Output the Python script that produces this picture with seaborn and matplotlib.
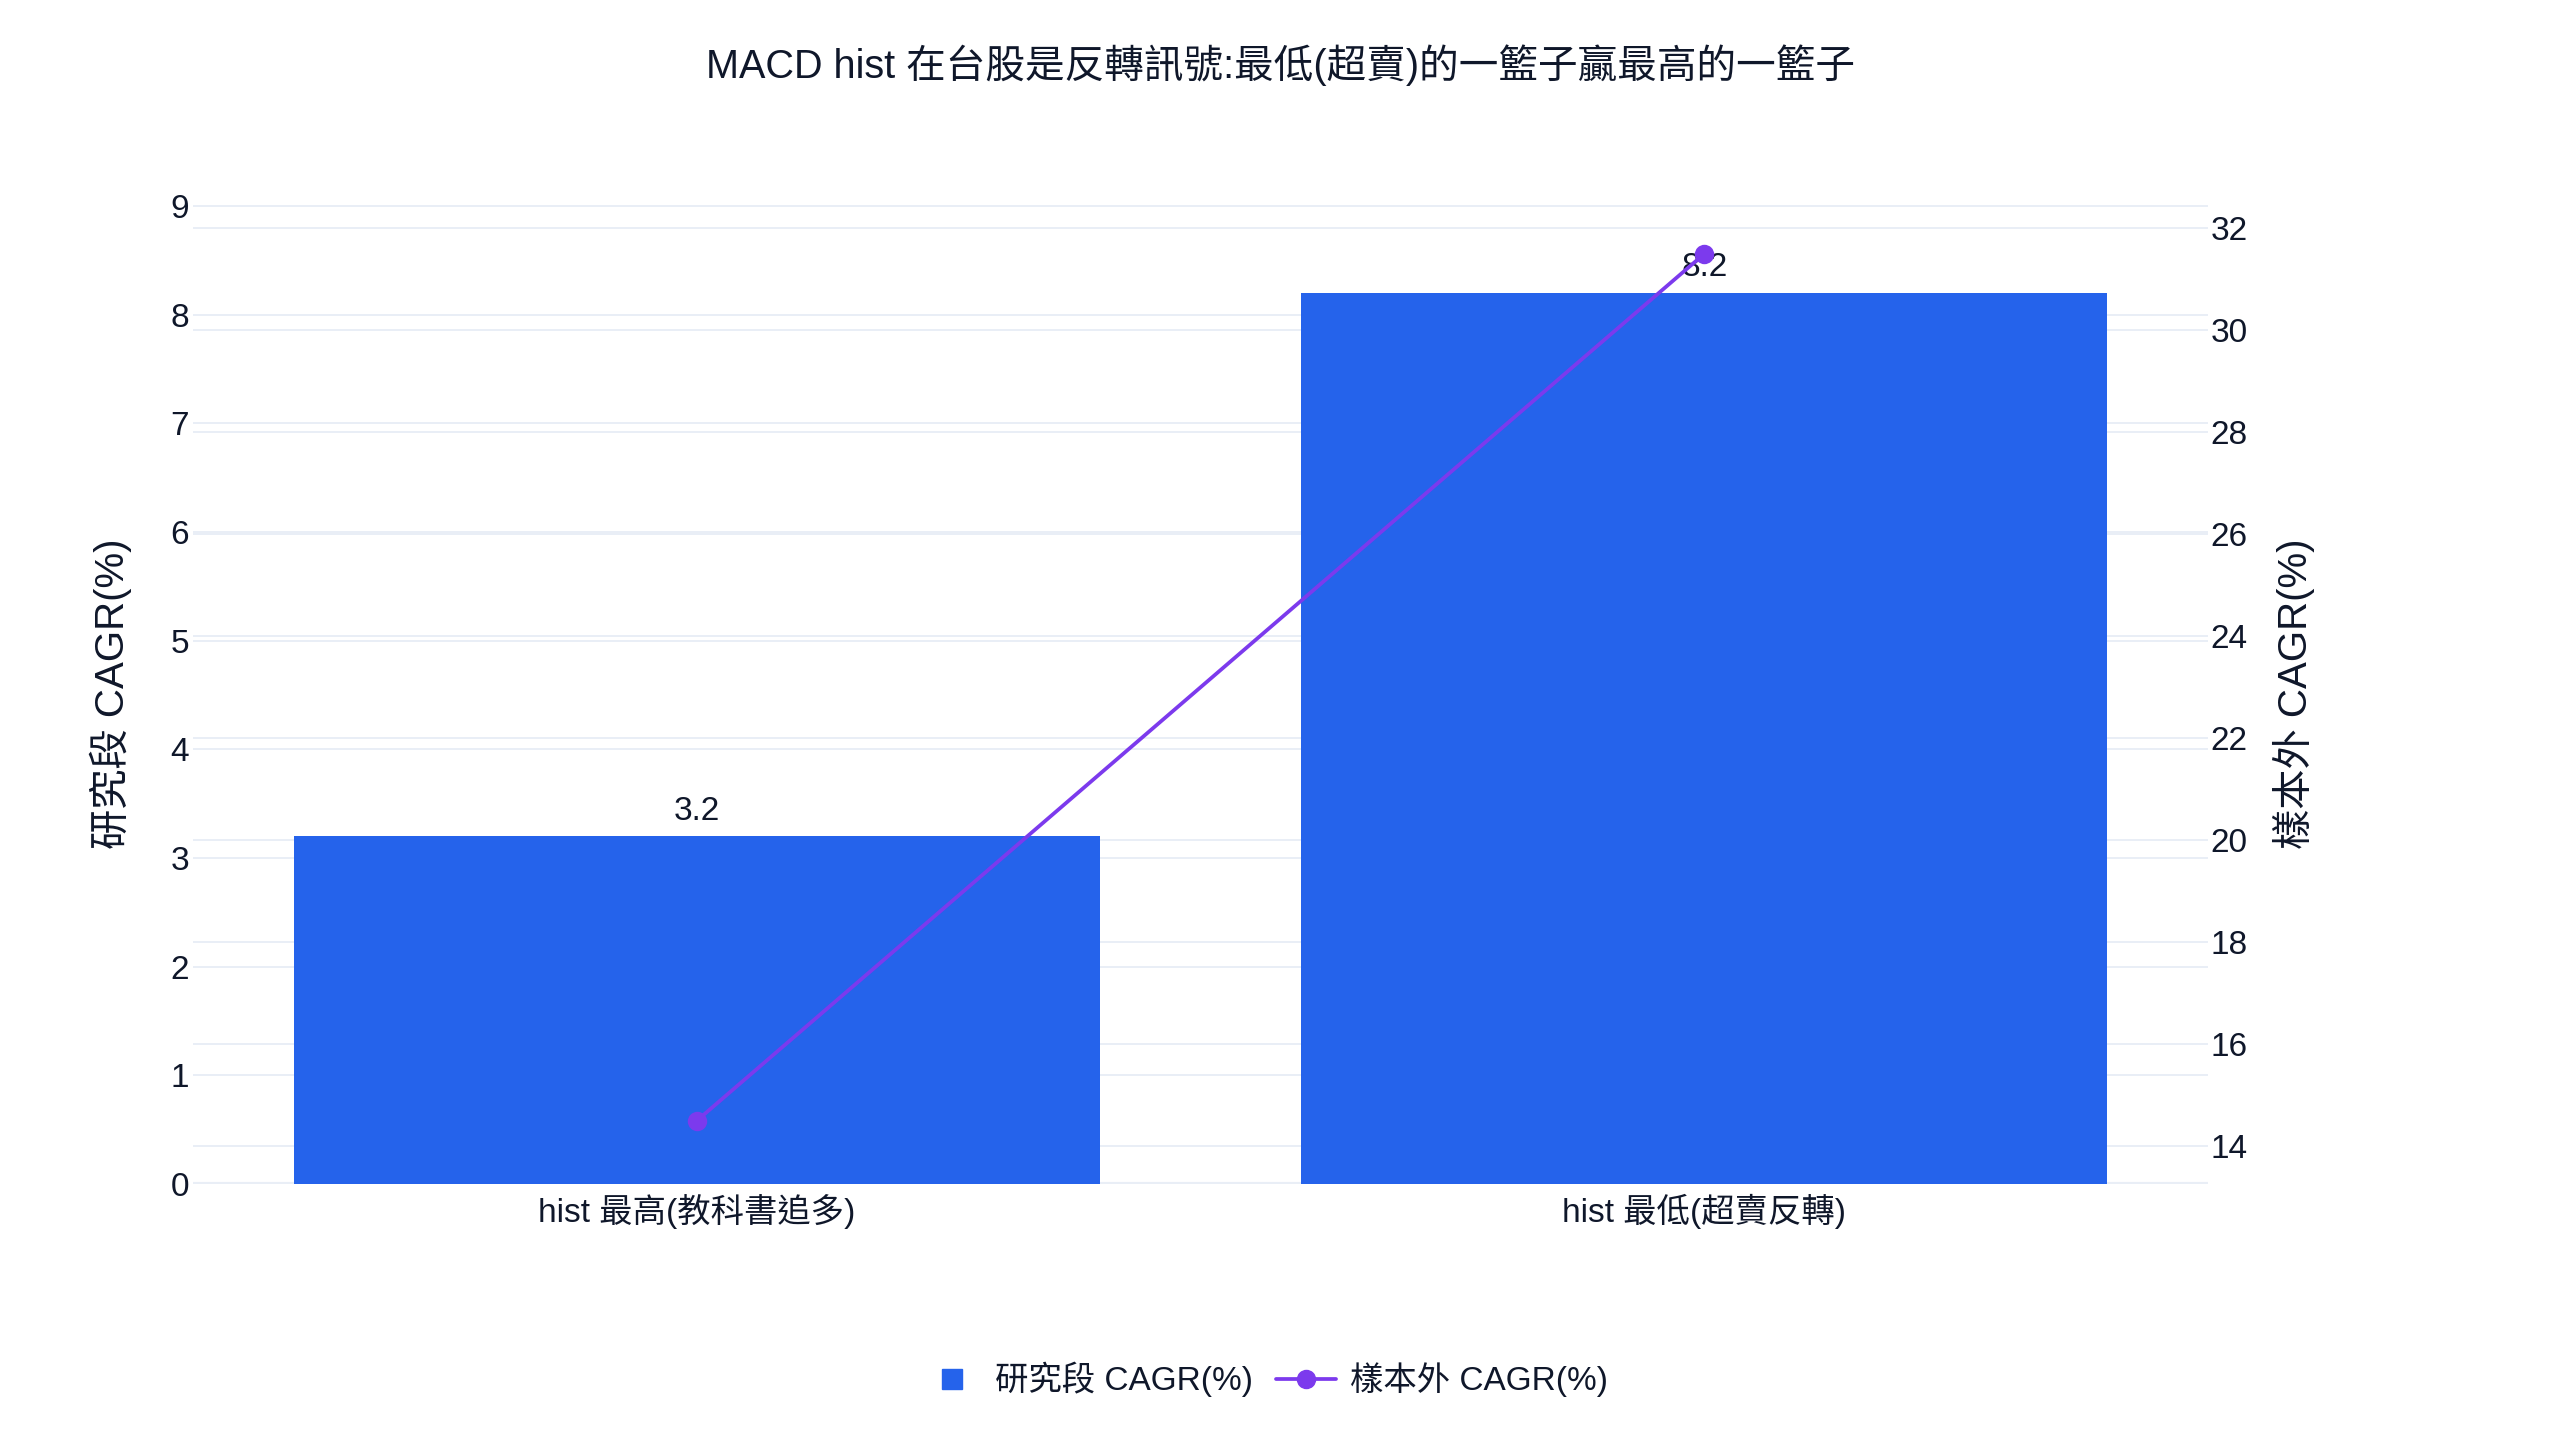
import matplotlib
matplotlib.use("Agg")
import matplotlib.pyplot as plt
import matplotlib.transforms as mtransforms
from matplotlib.lines import Line2D
import seaborn as sns


# ─────────────────────────────────────────────
# Data
# ─────────────────────────────────────────────

TITLE = "MACD hist 在台股是反轉訊號:最低(超賣)的一籃子贏最高的一籃子"
categories = ["hist 最高(教科書追多)", "hist 最低(超賣反轉)"]
study_cagr = [3.2, 8.2]      # left axis, bars
oos_cagr = [14.5, 31.5]      # right axis, line
left_ticks = list(range(0, 10))
right_ticks = list(range(14, 33, 2))
study_label = "研究段 CAGR(%)"
oos_label = "樣本外 CAGR(%)"

BAR_COLOR = "#2563EB"
LINE_COLOR = "#7C3AED"
TEXT_COLOR = "#0f172a"
GRID_COLOR = "#E9EEF6"

TICK_FS = 24
LABEL_FS = 29
TITLE_FS = 28.5


# ─────────────────────────────────────────────
# Style
# ─────────────────────────────────────────────

sns.set_theme(style="white")
plt.rcParams["font.family"] = ["Liberation Sans", "Noto Sans CJK TC"]
plt.rcParams["text.color"] = TEXT_COLOR
plt.rcParams["axes.labelcolor"] = TEXT_COLOR
plt.rcParams["xtick.color"] = TEXT_COLOR
plt.rcParams["ytick.color"] = TEXT_COLOR

fig = plt.figure(figsize=(25.6, 14.4), dpi=100)
ax = fig.add_axes([0.0754, 0.1778, 0.7871, 0.6806])

# Bars (left axis)
sns.barplot(x=categories, y=study_cagr, color=BAR_COLOR, saturation=1,
            width=0.8, linewidth=0, ax=ax, zorder=2)
ax.bar_label(ax.containers[0], fmt="%.1f", padding=7, fontsize=TICK_FS,
             color=TEXT_COLOR)

# Line (right axis)
ax2 = ax.twinx()
sns.lineplot(x=categories, y=oos_cagr, ax=ax2, color=LINE_COLOR,
             linewidth=2.7, marker="o", markersize=14, markeredgewidth=0,
             sort=False)

ax.set_xlim(-0.5, 1.5)
ax.set_ylim(0, 9.02)
ax2.set_ylim(13.26, 32.48)

# Grid lines for both axes, kept under the bars
ax.set_yticks(left_ticks)
ax.grid(axis="y", color=GRID_COLOR, linewidth=1.4)
ax.grid(axis="x", visible=False)
ax.set_axisbelow(True)
ax.axhline(0, color=GRID_COLOR, linewidth=3, zorder=1)

ax2.set_yticks(right_ticks)
ax2.grid(False)
trans = mtransforms.blended_transform_factory(ax.transAxes, ax2.transData)
for t in right_ticks:
    ax.add_line(Line2D([0, 1], [t, t], transform=trans, color=GRID_COLOR,
                       linewidth=1.4, zorder=0))

for a in (ax, ax2):
    for s in a.spines.values():
        s.set_visible(False)

ax.tick_params(axis="y", length=0, pad=3, labelsize=TICK_FS)
ax.tick_params(axis="x", length=0, pad=7, labelsize=TICK_FS)
ax2.tick_params(axis="y", length=0, pad=2, labelsize=TICK_FS)

ax.set_xlabel("")
ax2.set_xlabel("")
ax.set_ylabel(study_label, fontsize=LABEL_FS, va="center")
ax.yaxis.set_label_coords(-0.0407, 0.5)
ax2.set_ylabel(oos_label, fontsize=LABEL_FS, va="center")
ax2.yaxis.set_label_coords(1.0427, 0.5)

fig.text(0.5, 0.955, TITLE, ha="center", va="center", fontsize=TITLE_FS,
         color=TEXT_COLOR)

handles = [
    Line2D([], [], marker="s", linestyle="none", color=BAR_COLOR, markersize=15),
    Line2D([], [], color=LINE_COLOR, linewidth=2.7, marker="o", markersize=13),
]
fig.legend(handles, [study_label, oos_label], loc="center",
           bbox_to_anchor=(0.494, 0.042), ncol=2, frameon=False,
           fontsize=TICK_FS, handlelength=1.8, handletextpad=0.4,
           columnspacing=0.7)

fig.savefig("out.png", dpi=100)
plt.close(fig)
